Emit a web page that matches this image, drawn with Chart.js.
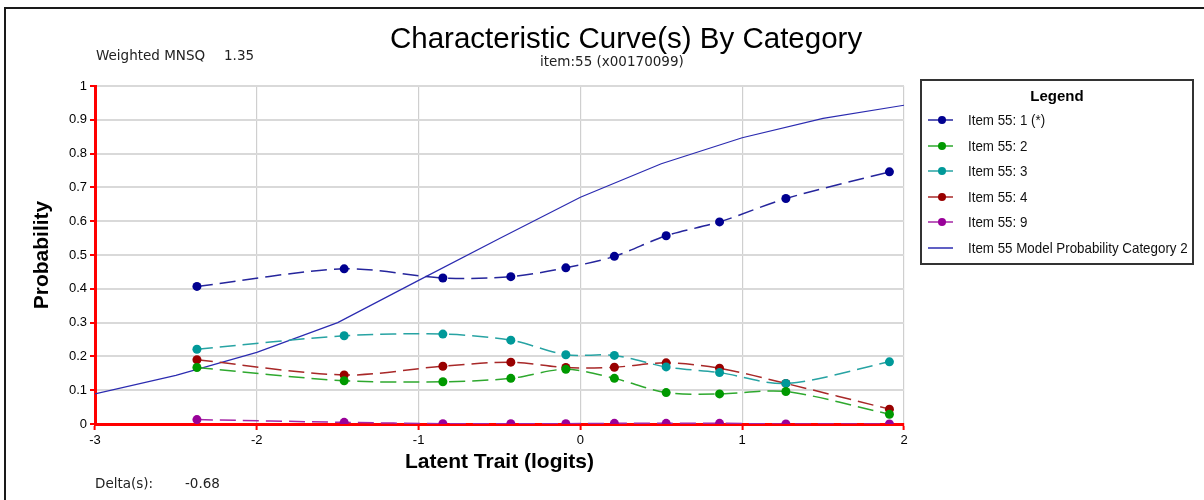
<!DOCTYPE html>
<html>
<head>
<meta charset="utf-8">
<title>Characteristic Curve(s) By Category</title>
<script src="https://cdn.jsdelivr.net/npm/chart.js@4.4.1/dist/chart.umd.min.js"></script>
<style>
    html, body { margin: 0; padding: 0; background: #fff; }
    #wrap { position: relative; width: 1204px; height: 500px; overflow: hidden; background: #fff; }
    #wrap canvas { position: absolute; left: 0; top: 0; }
    .frame { position: absolute; left: 4px; top: 7px; width: 1400px; height: 700px; border-left: 2px solid #1a1a1a; border-top: 2px solid #1a1a1a; }
    .txt { position: absolute; white-space: nowrap; line-height: 1; color: #000; }
    .title { font-family: 'Liberation Sans', Arial, sans-serif; font-size: 29.5px; left: 390px; top: 23px; }
    .small { font-family: 'DejaVu Sans', Tahoma, sans-serif; font-size: 13.5px; color: #222; }
    .legend { position: absolute; left: 920px; top: 79px; width: 274px; height: 186px; box-sizing: border-box; border: 2px solid #333; background: #fff; }
    .legend .head { position: absolute; left: 0; width: 100%; top: 6px; text-align: center; font: bold 15px 'Liberation Sans', Arial, sans-serif; }
    .legend .item { position: absolute; left: 6px; height: 16px; }
    .legend .item svg { position: absolute; left: 0; top: 3px; }
    .legend .item span { position: absolute; left: 40px; top: 0; line-height: 16px; white-space: nowrap; font-family: 'Liberation Sans', Arial, sans-serif; font-size: 15px; color: #111; transform: scaleX(0.89); transform-origin: left center; }
</style>
</head>
<body>
<div id="wrap">
    <canvas id="chart" width="1204" height="500"></canvas>
    <div class="frame"></div>
    <div class="txt title">Characteristic Curve(s) By Category</div>
    <div class="txt small" style="left:540px;top:55px;">item:55 (x00170099)</div>
    <div class="txt small" style="left:96px;top:49px;">Weighted MNSQ</div>
    <div class="txt small" style="left:224px;top:49px;">1.35</div>
    <div class="txt small" style="left:95px;top:477px;">Delta(s):</div>
    <div class="txt small" style="left:185px;top:477px;">-0.68</div>
    <div class="legend" id="legend"><div class="head">Legend</div></div>
</div>
<script>
// Observed proportions per score category at each ability group (logits)
const groupTheta = [-2.37, -1.46, -0.85, -0.43, -0.09, 0.21, 0.53, 0.86, 1.27, 1.91];
const cat1Values = [0.407, 0.459, 0.432, 0.436, 0.462, 0.496, 0.557, 0.598, 0.667, 0.746];
const cat2Values = [0.167, 0.128, 0.125, 0.135, 0.162, 0.135, 0.093, 0.089, 0.096, 0.029];
const cat3Values = [0.221, 0.261, 0.266, 0.248, 0.205, 0.203, 0.169, 0.152, 0.120, 0.184];
const cat4Values = [0.190, 0.145, 0.171, 0.183, 0.167, 0.168, 0.181, 0.165, 0.120, 0.044];
const cat9Values = [0.013, 0.005, 0.001, 0.001, 0.001, 0.002, 0.002, 0.002, 0.000, 0.000];

// Model probability curve
const modelTheta = [-3, -2.5, -2, -1.5, -1, -0.5, 0, 0.5, 1, 1.5, 2];
const modelProb = [0.089, 0.144, 0.212, 0.300, 0.425, 0.549, 0.671, 0.770, 0.847, 0.904, 0.943];

const seriesNames = ['Item 55: 1 (*)', 'Item 55: 2', 'Item 55: 3', 'Item 55: 4', 'Item 55: 9'];
const modelName = 'Item 55 Model Probability Category 2';

// Colors: markers are darker than the dashed lines
const markerColors = ['#000090', '#009900', '#009999', '#990000', '#990099'];
const lineColors = ['#25259c', '#2ea82e', '#27a3a3', '#a82828', '#a526a5'];
const modelColor = '#2b2bb0';

const seriesValues = [cat1Values, cat2Values, cat3Values, cat4Values, cat9Values];

const toPoints = (xs, ys) => xs.map((x, i) => ({ x: x, y: ys[i] }));

let datasets = seriesValues.map((values, index) => ({
    label: seriesNames[index],
    data: toPoints(groupTheta, values),
    showLine: true,
    borderColor: lineColors[index],
    borderWidth: 1.5,
    borderDash: [16, 7],
    tension: 0.3,
    pointRadius: 4.5,
    pointBorderWidth: 0,
    pointBackgroundColor: markerColors[index]
}));

datasets.push({
    label: modelName,
    data: toPoints(modelTheta, modelProb),
    showLine: true,
    borderColor: modelColor,
    borderWidth: 1.2,
    tension: 0,
    pointRadius: 0
});

const tickFont = { family: "'Liberation Sans', Arial, sans-serif", size: 13 };
const axisTitleFont = { family: "'Liberation Sans', Arial, sans-serif", size: 21, weight: 'bold' };

new Chart(document.getElementById('chart'), {
    type: 'scatter',
    data: { datasets: datasets },
    options: {
        responsive: false,
        animation: false,
        events: [],
        layout: { padding: { left: 0, top: 86, right: 300, bottom: 0 } },
        plugins: {
            legend: { display: false },
            tooltip: { enabled: false }
        },
        scales: {
            x: {
                type: 'linear',
                min: -3,
                max: 2,
                afterFit: (scale) => { scale.height = 76; },
                ticks: { stepSize: 1, color: '#000', font: tickFont, padding: 3 },
                grid: { color: '#cfcfcf', lineWidth: 1.2, tickColor: 'red', tickLength: 6, tickWidth: 2 },
                border: { color: 'red', width: 3 },
                title: { display: true, text: 'Latent Trait (logits)', color: '#000', font: axisTitleFont, padding: { top: 0, bottom: 25 } }
            },
            y: {
                type: 'linear',
                min: 0,
                max: 1,
                afterFit: (scale) => { scale.width = 95; },
                ticks: {
                    stepSize: 0.1,
                    color: '#000',
                    font: tickFont,
                    padding: 3,
                    callback: (value) => String(Math.round(value * 10) / 10)
                },
                grid: { color: '#d9d9d9', lineWidth: 2, tickColor: 'red', tickLength: 5, tickWidth: 2 },
                border: { color: 'red', width: 3 },
                title: { display: true, text: 'Probability', color: '#000', font: axisTitleFont, padding: { top: 30, bottom: 0 } }
            }
        }
    }
});

// Legend drawn as HTML next to the plot
const legendEl = document.getElementById('legend');
const legendRows = seriesNames.map((name, i) => ({ name: name, line: lineColors[i], marker: markerColors[i] }));
legendRows.push({ name: modelName, line: modelColor, marker: null });
legendRows.forEach((row, i) => {
    const item = document.createElement('div');
    item.className = 'item';
    item.style.top = (31 + i * 25.6) + 'px';
    let svg = '<svg width="28" height="10"><line x1="0" y1="5" x2="25" y2="5" stroke="' + row.line + '" stroke-width="1.5"/>';
    if (row.marker) {
        svg += '<circle cx="14" cy="5" r="4" fill="' + row.marker + '"/>';
    }
    svg += '</svg>';
    item.innerHTML = svg + '<span>' + row.name + '</span>';
    legendEl.appendChild(item);
});
</script>
</body>
</html>
